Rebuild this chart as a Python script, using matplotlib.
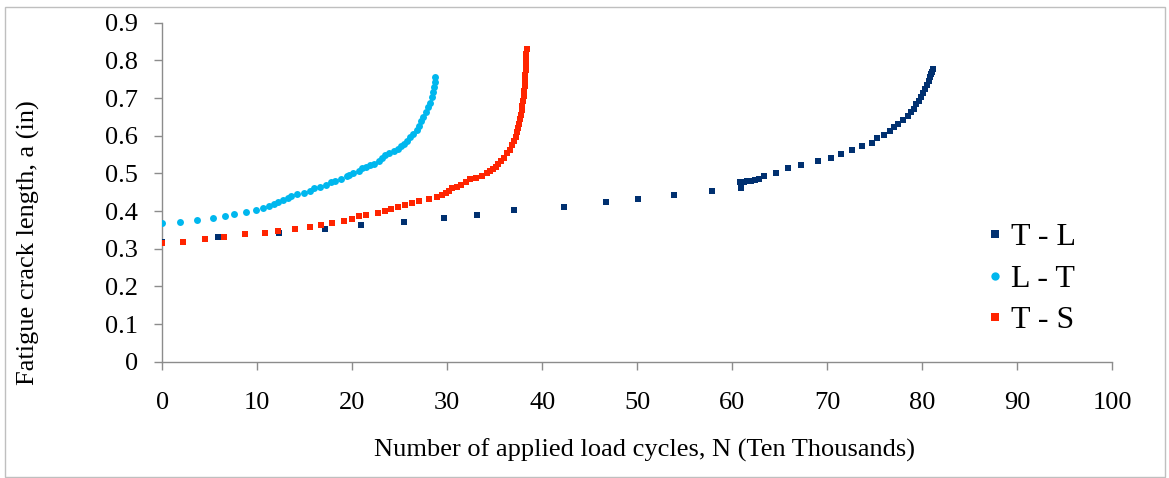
import matplotlib
matplotlib.use("Agg")
import matplotlib.pyplot as plt
from matplotlib.patches import Rectangle

# ---- data ----
tl_x = [0, 5.9, 12.3, 17.1, 20.9, 25.5, 29.7, 33.1, 37.05, 42.3,
        46.7, 50.1, 53.9, 57.9, 60.9, 60.8, 61.2, 61.6, 62.0, 62.4,
        62.8, 63.4, 64.6, 65.9, 67.3, 69.0, 70.4, 71.5, 72.6, 73.7,
        74.7, 75.3, 76.0, 76.6, 77.05, 77.5, 78.0, 78.5, 78.8, 79.2,
        79.4, 79.65, 79.9, 80.1, 80.3, 80.5, 80.7, 80.8, 80.9, 81.0,
        81.1]
tl_y = [0.318, 0.330, 0.342, 0.351, 0.363, 0.371, 0.382, 0.389, 0.402, 0.410,
        0.423, 0.431, 0.442, 0.453, 0.460, 0.476, 0.477, 0.479, 0.480, 0.482,
        0.484, 0.492, 0.501, 0.513, 0.521, 0.532, 0.542, 0.552, 0.561, 0.572,
        0.581, 0.593, 0.602, 0.612, 0.623, 0.631, 0.642, 0.651, 0.663, 0.672,
        0.683, 0.692, 0.702, 0.713, 0.723, 0.734, 0.745, 0.757, 0.763, 0.769,
        0.776]

lt_x = [0.0, 1.9, 3.7, 5.3, 6.6, 7.6, 8.8, 9.9, 10.6, 11.2,
        11.8, 12.2, 12.7, 13.2, 13.6, 14.2, 14.9, 15.5, 16.0, 16.6,
        17.2, 17.8, 18.2, 18.8, 19.4, 19.7, 20.1, 20.7, 21.0, 21.4,
        21.9, 22.3, 22.8, 23.1, 23.5, 23.9, 24.4, 24.8, 25.1, 25.4,
        25.8, 26.1, 26.4, 26.8, 27.0, 27.25, 27.5, 27.75, 28.0, 28.2,
        28.4, 28.55, 28.65, 28.7, 28.72]
lt_y = [0.367, 0.371, 0.377, 0.382, 0.387, 0.393, 0.397, 0.403, 0.408, 0.414,
        0.419, 0.424, 0.430, 0.434, 0.439, 0.444, 0.448, 0.454, 0.460, 0.465,
        0.469, 0.476, 0.481, 0.486, 0.492, 0.496, 0.500, 0.507, 0.514, 0.516,
        0.521, 0.526, 0.533, 0.540, 0.548, 0.553, 0.559, 0.566, 0.573, 0.579,
        0.587, 0.596, 0.605, 0.616, 0.627, 0.638, 0.650, 0.662, 0.675, 0.688,
        0.702, 0.716, 0.730, 0.743, 0.757]

ts_x = [0, 2.2, 4.5, 6.5, 8.7, 10.8, 12.2, 14.0, 15.6, 16.7,
        17.9, 19.1, 20.0, 20.7, 21.5, 22.7, 23.5, 24.1, 24.8, 25.6,
        26.3, 27.0, 28.1, 28.9, 29.4, 29.9, 30.2, 30.5, 31.0, 31.4,
        32.0, 32.4, 33.0, 33.7, 34.2, 34.5, 34.8, 35.1, 35.4, 35.7,
        36.0, 36.3, 36.6, 36.85, 37.05, 37.2, 37.35, 37.45, 37.55, 37.65,
        37.75, 37.85, 37.92, 38.0, 38.05, 38.1, 38.15, 38.2, 38.23, 38.26,
        38.29, 38.31, 38.33, 38.35]
ts_y = [0.314, 0.318, 0.326, 0.332, 0.338, 0.343, 0.347, 0.353, 0.358, 0.363,
        0.369, 0.373, 0.379, 0.386, 0.390, 0.394, 0.400, 0.406, 0.410, 0.416,
        0.422, 0.426, 0.431, 0.437, 0.442, 0.448, 0.454, 0.460, 0.465, 0.469,
        0.477, 0.484, 0.489, 0.494, 0.500, 0.505, 0.511, 0.518, 0.526, 0.534,
        0.542, 0.553, 0.563, 0.574, 0.586, 0.597, 0.609, 0.620, 0.632, 0.644,
        0.656, 0.668, 0.680, 0.693, 0.706, 0.719, 0.732, 0.746, 0.760, 0.774,
        0.788, 0.802, 0.816, 0.830]

series_labels = ["T - L", "L - T", "T - S"]
x_ticks = [0, 10, 20, 30, 40, 50, 60, 70, 80, 90, 100]
y_ticks = [0, 0.1, 0.2, 0.3, 0.4, 0.5, 0.6, 0.7, 0.8, 0.9]
y_tick_labels = ["0", "0.1", "0.2", "0.3", "0.4", "0.5", "0.6", "0.7", "0.8", "0.9"]

# ---- figure ----
W, H = 1169, 478
plt.rcParams['font.family'] = ['Liberation Serif', 'DejaVu Serif']
fig = plt.figure(figsize=(W / 100, H / 100), dpi=100)
fig.patch.set_facecolor('white')

ax = fig.add_axes([162.3 / W, 1 - 361.7 / H, (1112 - 162.3) / W, (361.7 - 22.7) / H])

c_tl = '#003070'
c_lt = '#00B7EE'
c_ts = '#FF2400'

ax.plot(tl_x, tl_y, linestyle='none', marker='s', markersize=4.4, color=c_tl,
        markeredgewidth=0, label=series_labels[0], zorder=3)
ax.plot(lt_x, lt_y, linestyle='none', marker='o', markersize=5.0, color=c_lt,
        markeredgewidth=0, label=series_labels[1], zorder=3)
ax.plot(ts_x, ts_y, linestyle='none', marker='s', markersize=4.9, color=c_ts,
        markeredgewidth=0, label=series_labels[2], zorder=4)

ax.set_xlim(0, 100)
ax.set_ylim(0, 0.9)
ax.set_xticks(x_ticks)
ax.set_yticks(y_ticks)
ax.set_yticklabels(y_tick_labels)

for s in ['top', 'right']:
    ax.spines[s].set_visible(False)
for s in ['left', 'bottom']:
    ax.spines[s].set_color('#8C8C8C')
    ax.spines[s].set_linewidth(1.0)

ax.tick_params(axis='x', direction='out', length=6, width=1.0, color='#8C8C8C',
               labelsize=19, pad=16, labelcolor='black')
ax.tick_params(axis='y', direction='out', length=5.5, width=1.0, color='#8C8C8C',
               labelsize=19, pad=12, labelcolor='black')

fig.text(28 / W, 1 - 243 / H, "Fatigue crack length, a (in)", rotation=90,
         ha='center', va='center', fontsize=19)
fig.text(645 / W, 1 - 450 / H, "Number of applied load cycles, N (Ten Thousands)",
         ha='center', va='center', fontsize=19)

leg = ax.legend(loc='center left', bbox_to_anchor=(984 / W, 1 - 279 / H),
                bbox_transform=fig.transFigure, frameon=False, fontsize=23,
                handlelength=0.7, handletextpad=0.15, labelspacing=0.38,
                borderpad=0, borderaxespad=0, markerscale=1.2)

fig.add_artist(Rectangle((5 / W, 1 - 477 / H), 1160 / W, 470 / H,
                         transform=fig.transFigure, fill=False,
                         edgecolor='#BFBFBF', linewidth=1.0))

fig.savefig("out.png", dpi=100, facecolor='white')
